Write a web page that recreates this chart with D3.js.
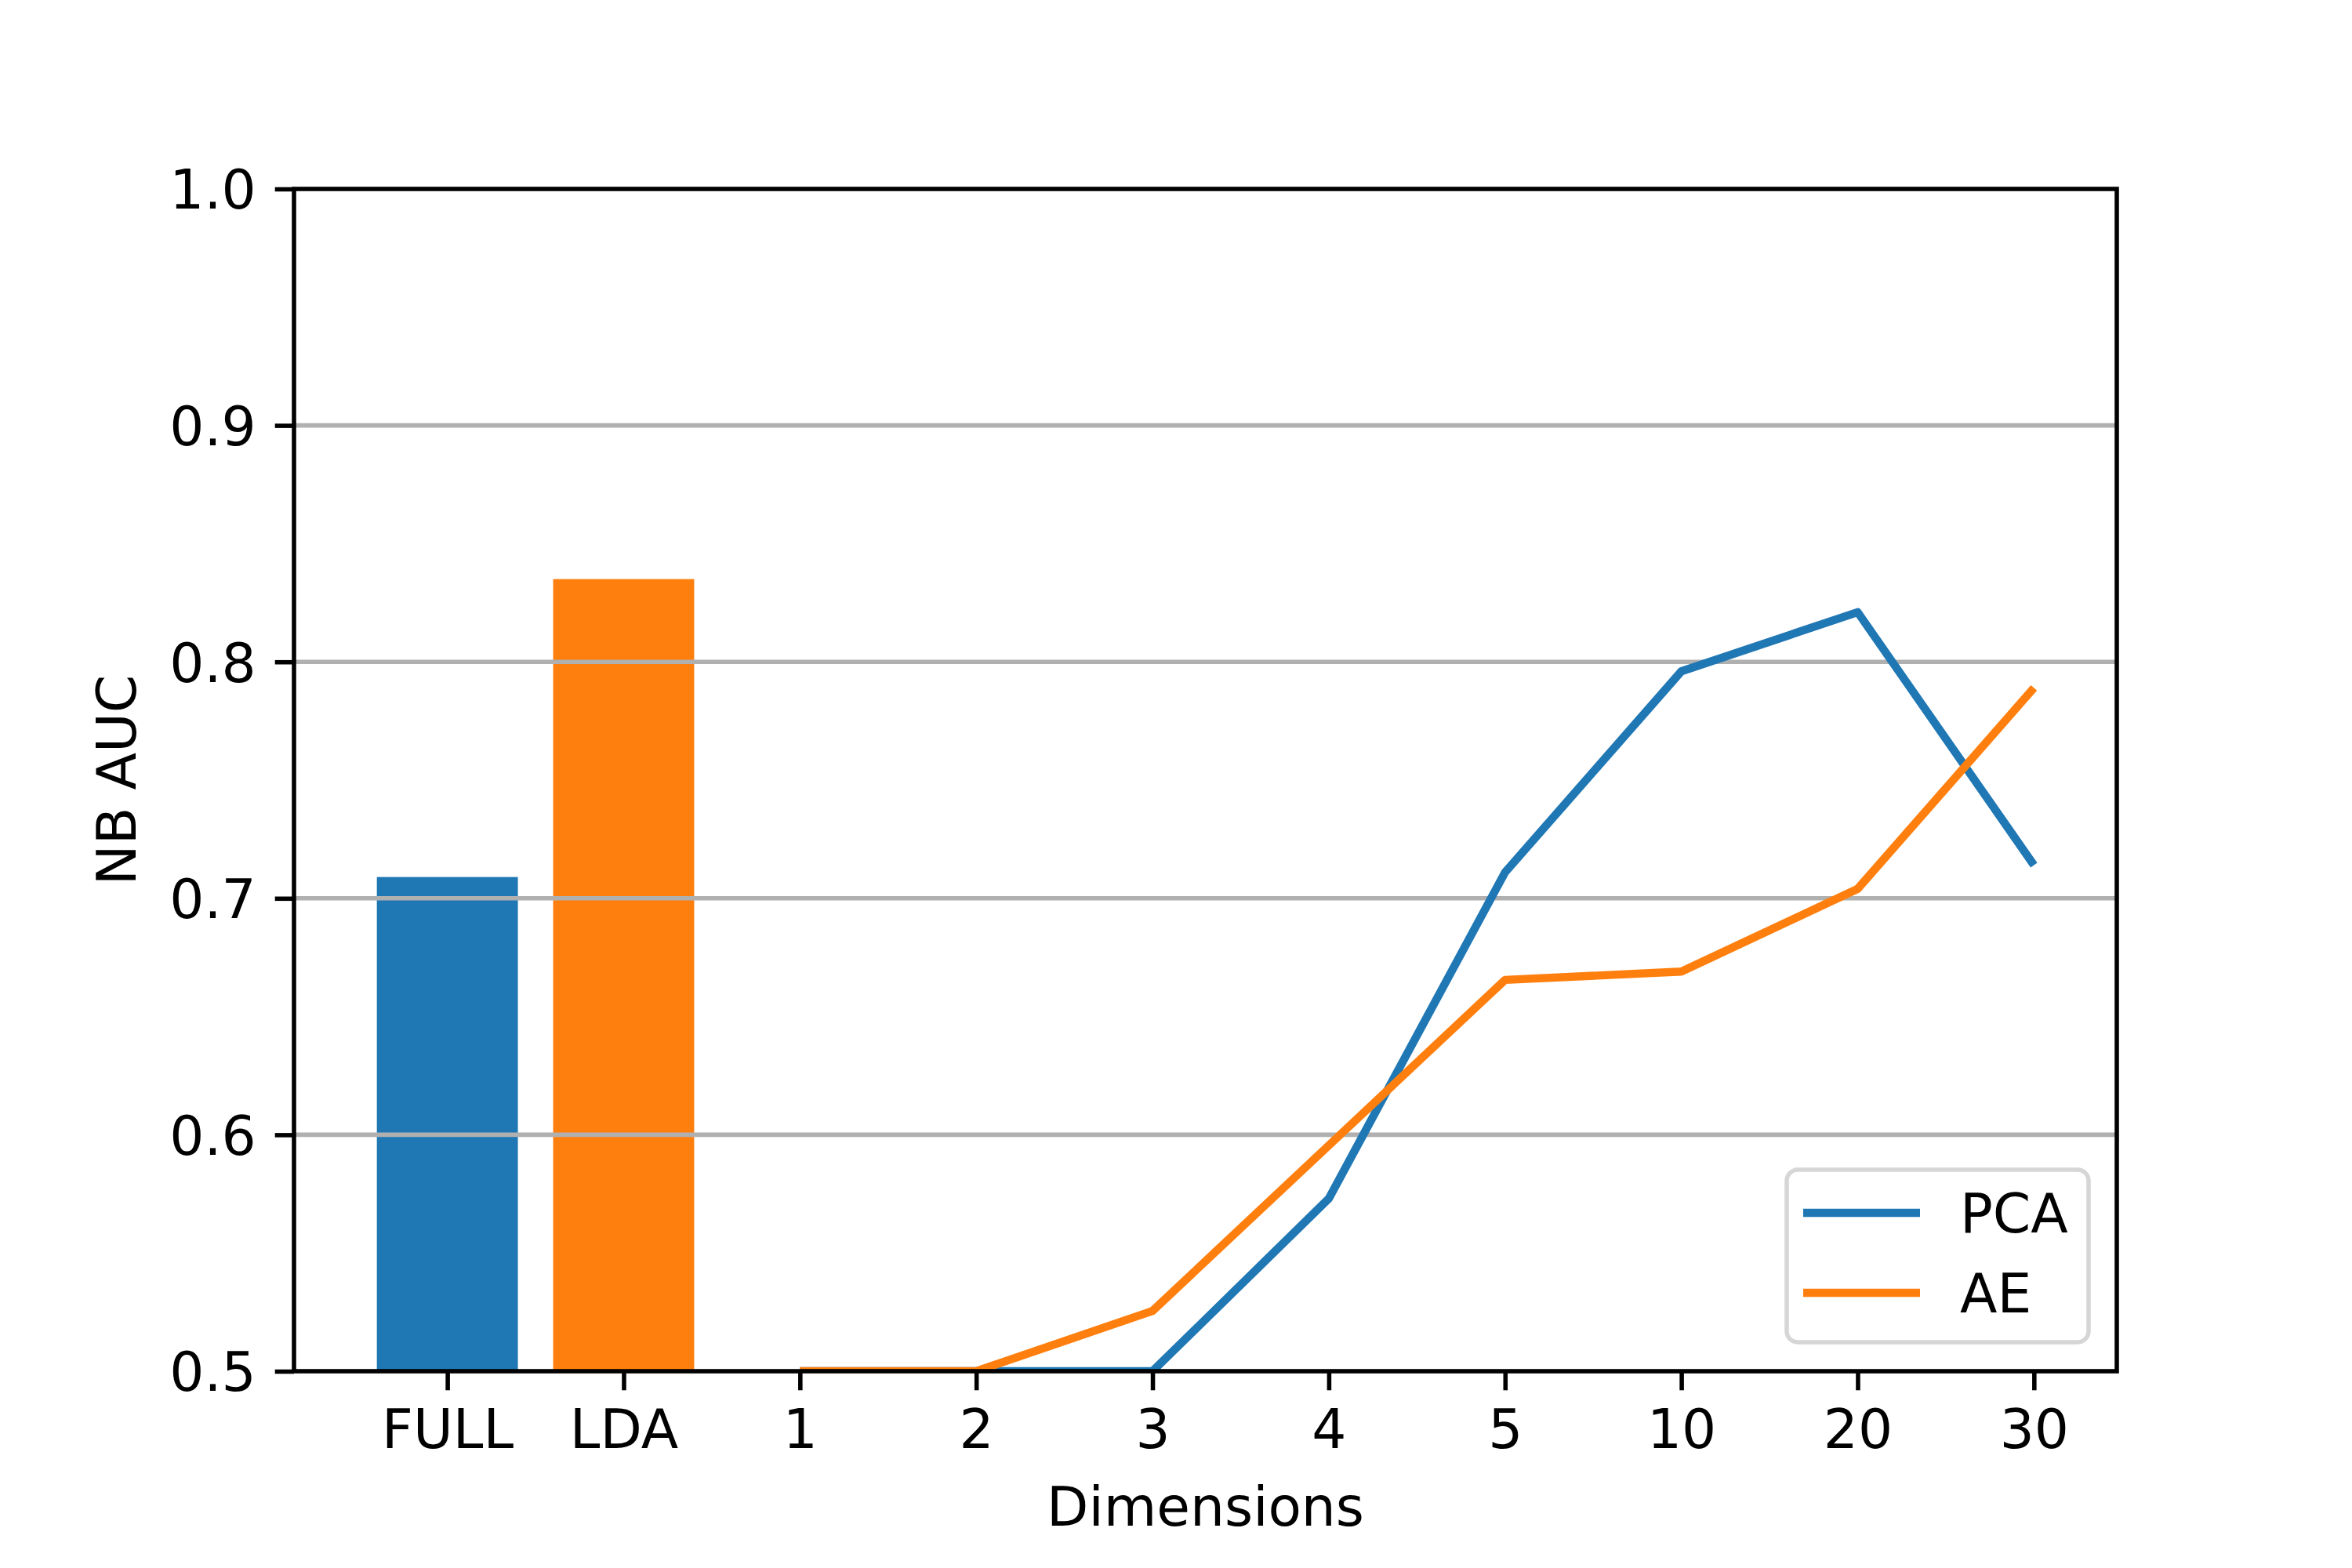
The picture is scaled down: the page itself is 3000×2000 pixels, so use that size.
<!DOCTYPE html>
<html>
<head>
<meta charset="utf-8">
<script src="https://cdn.jsdelivr.net/npm/d3@7"></script>
<style>
html,body{margin:0;padding:0;background:#fff;}
svg{display:block;}
text{font-family:"DejaVu Sans",sans-serif;}
</style>
</head>
<body>
<svg id="chart" width="3000" height="2000"></svg>
<script>
// ---- data ----
const categories = ["FULL","LDA","1","2","3","4","5","10","20","30"];
const barCategories = ["FULL","LDA"];
const barValues = [0.709, 0.835];
const lineCategories = ["1","2","3","4","5","10","20","30"];
const pcaValues = [0.500, 0.500, 0.500, 0.573, 0.711, 0.796, 0.821, 0.714];
const aeValues  = [0.500, 0.500, 0.5255, 0.5955, 0.6655, 0.669, 0.704, 0.789];
const yTicks = [0.5, 0.6, 0.7, 0.8, 0.9, 1.0];
const seriesNames = ["PCA","AE"];
const colors = {blue:"#1f77b4", orange:"#ff7f0e"};

// ---- layout ----
const L = 375, R = 2700, T = 241, B = 1749;
const svg = d3.select("#chart");
const idx = d => categories.indexOf(d);
const x = d3.scaleLinear().domain([-0.87, 9.47]).range([L, R]);
const y = d3.scaleLinear().domain([0.5, 1.0]).range([B, T]);
const barW = x(0.8) - x(0);

svg.append("defs").append("clipPath").attr("id","clip")
  .append("rect").attr("x",L).attr("y",T).attr("width",R-L).attr("height",B-T);

// bars
svg.append("g").selectAll("rect").data(barCategories).join("rect")
  .attr("x", d => x(idx(d)) - barW/2)
  .attr("width", barW)
  .attr("y", (d,i) => y(barValues[i]))
  .attr("height", (d,i) => y(0.5) - y(barValues[i]))
  .attr("fill", (d,i) => i === 0 ? colors.blue : colors.orange);

// grid (above bars)
svg.append("g").selectAll("line").data(yTicks.slice(1,-1)).join("line")
  .attr("x1", L).attr("x2", R)
  .attr("y1", d => y(d)).attr("y2", d => y(d))
  .attr("stroke", "#b0b0b0").attr("stroke-width", 5.56);

// lines
const lineGen = d3.line().x((d,i) => x(idx(lineCategories[i]))).y(d => y(d));
const lg = svg.append("g").attr("clip-path","url(#clip)");
lg.append("path").attr("d", lineGen(pcaValues)).attr("fill","none")
  .attr("stroke", colors.blue).attr("stroke-width", 10.4).attr("stroke-linecap","butt").attr("stroke-linejoin","round");
lg.append("path").attr("d", lineGen(aeValues)).attr("fill","none")
  .attr("stroke", colors.orange).attr("stroke-width", 10.4).attr("stroke-linecap","butt").attr("stroke-linejoin","round");

// axes
const xAxis = d3.axisBottom(x).tickValues(d3.range(categories.length))
  .tickFormat(i => categories[i]).tickSize(24.3).tickPadding(24);
const gx = svg.append("g").attr("transform", `translate(0,${B})`).call(xAxis);
gx.select(".domain").remove();
gx.selectAll(".tick line").attr("stroke","#000").attr("stroke-width",5.56);
gx.selectAll(".tick text").attr("font-size", 69.4).attr("fill","#000")
  .attr("font-family","DejaVu Sans");

const yAxis = d3.axisLeft(y).tickValues(yTicks).tickFormat(d3.format(".1f"))
  .tickSize(24.3).tickPadding(24);
const gy = svg.append("g").attr("transform", `translate(${L},0)`).call(yAxis);
gy.select(".domain").remove();
gy.selectAll(".tick line").attr("stroke","#000").attr("stroke-width",5.56);
gy.selectAll(".tick text").attr("font-size", 69.4).attr("fill","#000")
  .attr("font-family","DejaVu Sans").attr("dy","0.36em");

// frame
svg.append("rect").attr("x",L).attr("y",T).attr("width",R-L).attr("height",B-T)
  .attr("fill","none").attr("stroke","#000").attr("stroke-width",5.56)
  .attr("stroke-linejoin","miter");

// axis labels
svg.append("text").attr("x",(L+R)/2).attr("y",1946).attr("text-anchor","middle")
  .attr("font-size",69.4).text("Dimensions");
svg.append("text").attr("transform",`translate(173,${(T+B)/2}) rotate(-90)`)
  .attr("text-anchor","middle").attr("font-size",69.4).text("NB AUC");

// legend
const leg = svg.append("g");
leg.append("rect").attr("x",2279).attr("y",1492).attr("width",385).attr("height",220)
  .attr("rx",14).attr("ry",14).attr("fill","#fff").attr("fill-opacity",0.8)
  .attr("stroke","#d6d6d6").attr("stroke-width",5.56);
const legColors = [colors.blue, colors.orange];
seriesNames.forEach((name,i) => {
  const cy = 1547 + i*102;
  leg.append("line").attr("x1",2300).attr("x2",2449).attr("y1",cy).attr("y2",cy)
    .attr("stroke",legColors[i]).attr("stroke-width",10.4);
  leg.append("text").attr("x",2500).attr("y",cy+25).attr("font-size",69.4).text(name);
});
</script>
</body>
</html>
